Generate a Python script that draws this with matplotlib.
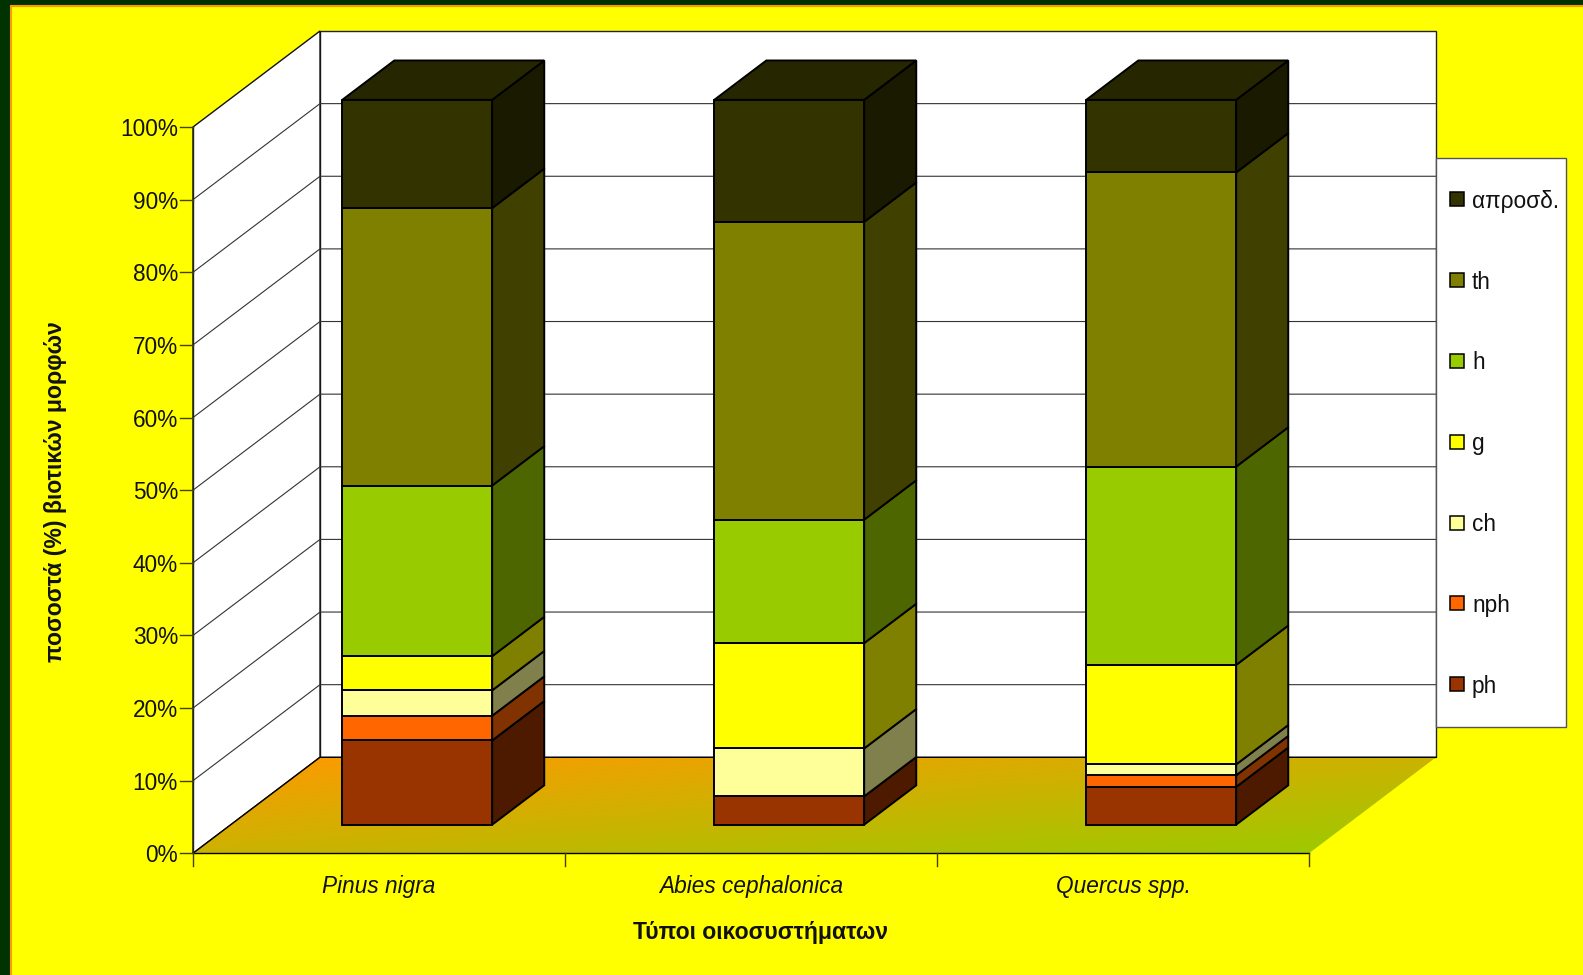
"""
stacked 3d-look bars of life forms per ecosystem type
"""

import numpy as np
import matplotlib
matplotlib.use("Agg")
import matplotlib.pyplot as plt
from matplotlib.colors import LinearSegmentedColormap
from matplotlib.patches import Polygon, Rectangle

categories = ["Pinus nigra", "Abies cephalonica", "Quercus spp."]
series_names = ["ph", "nph", "ch", "g", "h", "th", "απροσδ."]

# percentages per category, bottom of the stack first
ph = [11.6, 3.9, 5.2]
nph = [3.4, 0.0, 1.6]
ch = [3.5, 6.6, 1.5]
g = [4.7, 14.5, 13.7]
h = [23.5, 17.0, 27.3]
th = [38.2, 41.0, 40.5]
unknown = [14.9, 16.8, 10.0]

front_colors = ["#993300", "#FF6600", "#FFFF99", "#FFFF00", "#99CC00", "#808000", "#333300"]
side_colors = ["#4D1A00", "#803300", "#80804D", "#808000", "#4D6600", "#404000", "#1A1A00"]
top_color = "#262600"

y_ticks = list(range(0, 101, 10))

# axis box in figure pixels
X0, Y0 = 193.0, 853.3
CAT_W = 372.0
PX_PER_PCT = 7.263
DEPTH_X, DEPTH_Y = 127.0, 96.0


def proj(cat, val, depth=0.0):
    return (X0 + cat * CAT_W + depth * DEPTH_X, Y0 - val * PX_PER_PCT - depth * DEPTH_Y)


def face(ax, pts, color, edge="black", lw=1.4, z=3):
    ax.add_patch(Polygon(pts, closed=True, facecolor=color, edgecolor=edge,
                         linewidth=lw, joinstyle="miter", zorder=z))


if __name__ == '__main__':
    plt.rcParams['font.family'] = ['Liberation Sans', 'DejaVu Sans']

    fig = plt.figure(figsize=(15.83, 9.75), dpi=100, facecolor="#003300")
    ax = fig.add_axes([0, 0, 1, 1])
    ax.set_axis_off()

    # slide background
    ax.add_patch(Rectangle((11, 6), 1600, 1000, facecolor="#FFFF00",
                           edgecolor="#FF9900", linewidth=1.5, zorder=0))

    n = len(categories)
    # walls
    face(ax, [proj(0, 0, 1), proj(n, 0, 1), proj(n, 100, 1), proj(0, 100, 1)],
         "white", edge="#222222", lw=1.0, z=1)
    face(ax, [proj(0, 0), proj(0, 0, 1), proj(0, 100, 1), proj(0, 100)],
         "white", edge="#111111", lw=1.0, z=1)

    for v in y_ticks[1:-1]:
        ax.plot(*zip(proj(0, v), proj(0, v, 1), proj(n, v, 1)),
                color="#333333", lw=0.8, zorder=1.5, solid_joinstyle="miter")

    # floor with diagonal gradient
    floor = [proj(0, 0), proj(n, 0), proj(n, 0, 1), proj(0, 0, 1)]
    fx0, fx1 = proj(0, 0)[0], proj(n, 0, 1)[0]
    fy0, fy1 = proj(0, 0, 1)[1], proj(0, 0)[1]
    gx, gy = np.meshgrid(np.linspace(0, 1, 300), np.linspace(0, 1, 100))
    cmap = LinearSegmentedColormap.from_list("floor", ["#FF9900", "#99CC00"])
    im = ax.imshow((gx + gy) / 2, cmap=cmap, vmin=0, vmax=1, aspect="auto",
                   extent=(fx0, fx1, fy1, fy0), interpolation="bilinear", zorder=2)
    clip = Polygon(floor, closed=True, transform=ax.transData, facecolor="none", edgecolor="none")
    ax.add_patch(clip)
    im.set_clip_path(clip)
    ax.plot(*zip(proj(0, 0), proj(0, 0, 1), proj(n, 0, 1)), color="black", lw=1.0, zorder=2.5)

    # axes lines and ticks
    ax.plot(*zip(proj(0, 0), proj(n, 0)), color="black", lw=1.0, zorder=2.5)
    ax.plot(*zip(proj(0, 0), proj(0, 100)), color="#222222", lw=1.0, zorder=2.5)
    for v in y_ticks:
        x, y = proj(0, v)
        ax.plot([x - 13, x], [y, y], color="#444400", lw=1.0, zorder=2.5)
        ax.text(x - 15, y, f"{v}%", ha="right", va="center_baseline", fontsize=16.3, color="#111111")
    for i in range(n + 1):
        x, y = proj(i, 0)
        ax.plot([x, x], [y, y + 12.5], color="#444400", lw=1.0, zorder=2.5)

    # bars
    stacks = [ph, nph, ch, g, h, th, unknown]
    bar_w, d0, d1 = 0.403, 0.298, 0.708
    for i in range(n):
        c0, c1 = i + 0.501 - bar_w / 2, i + 0.501 + bar_w / 2
        base = 0.0
        for vals, fc, sc in zip(stacks, front_colors, side_colors):
            v = vals[i]
            if v <= 0:
                continue
            top = base + v
            face(ax, [proj(c1, base, d0), proj(c1, base, d1), proj(c1, top, d1), proj(c1, top, d0)], sc)
            face(ax, [proj(c0, base, d0), proj(c1, base, d0), proj(c1, top, d0), proj(c0, top, d0)], fc, z=4)
            base = top
        face(ax, [proj(c0, base, d0), proj(c1, base, d0), proj(c1, base, d1), proj(c0, base, d1)], top_color)

    for i, name in enumerate(categories):
        x, y = proj(i + 0.5, 0)
        ax.text(x, 886.5, name, ha="center", va="center", fontsize=16.3, style="italic", color="#111111")

    # axis titles
    ax.text(761, 933, "Τύποι οικοσυστήματων", ha="center", va="center",
            fontsize=16.6, fontweight="bold", color="#111111")
    ax.text(56, 492, "ποσοστά (%) βιοτικών μορφών", ha="center", va="center",
            rotation=90, fontsize=16.6, fontweight="bold", color="#111111")

    # legend box, top entry is the last series
    ax.add_patch(Rectangle((1436, 158), 130, 568.5, facecolor="white", edgecolor="#555555",
                           linewidth=1.0, zorder=5))
    for k, name in enumerate(series_names):
        y = 684.3 - k * 80.85
        ax.add_patch(Rectangle((1450.5, y - 7), 14, 14, facecolor=front_colors[k], edgecolor="black",
                               linewidth=1.1, zorder=6))
        ax.text(1472, y - 0.5, name, ha="left", va="center_baseline", fontsize=16.3, color="#111111", zorder=6)

    ax.set_xlim(0, 1583)
    ax.set_ylim(975, 0)
    fig.savefig("out.png", dpi=100, facecolor=fig.get_facecolor())
